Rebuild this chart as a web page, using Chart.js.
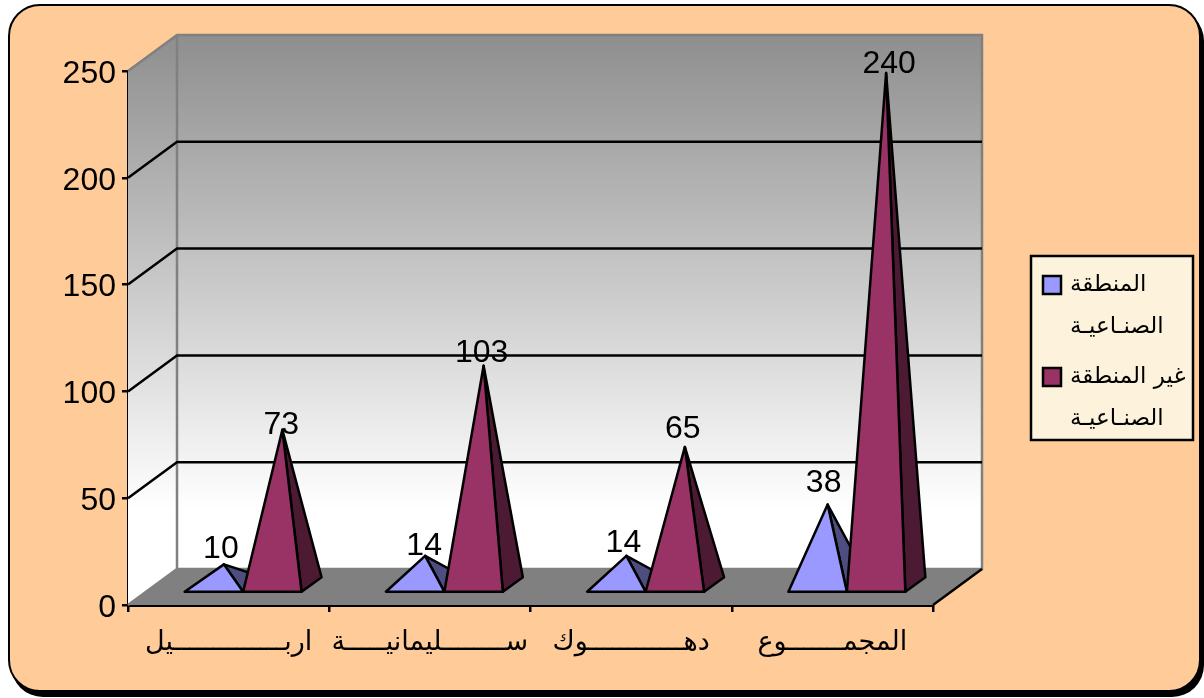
<!DOCTYPE html>
<html lang="ar">
<head>
<meta charset="utf-8">
<title>chart</title>
<script src="https://cdn.jsdelivr.net/npm/chart.js@4"></script>
<style>
    html, body { margin: 0; padding: 0; background: #fff; overflow: hidden; width: 1204px; height: 698px; }
    #frame {
        position: absolute; left: 8px; top: 4px; width: 1189px; height: 684px;
        background: #FFCC99; border: 2px solid #000; border-radius: 32px;
        box-shadow: 3px 5px 0 #000;
    }
    #Chart { position: absolute; left: 0; top: 0; }
</style>
</head>
<body>
<div id="frame"></div>
<canvas id="Chart" width="1204" height="698"></canvas>
<script>
// chart values
const categories = ['اربــــــــــــــيل', 'ســــــــليمانيـــــة', 'دهــــــــــــوك', 'المجمـــــــوع'];
const industrial = [10, 14, 14, 38];
const nonIndustrial = [73, 103, 65, 240];
const legendIndustrial = ['المنطقة', 'الصنـاعيـة'];
const legendNonIndustrial = ['غير المنطقة', 'الصنـاعيـة'];

// depth of the fake 3D box, in pixels
const depthX = 49, depthY = 36;
// how far the pyramids sit inside the box
const baseX = 14.5, baseY = 12, sideX = 20, sideY = 14.5;
// excel put each value label a little differently, offset from the apex
const nudgeIndustrial = [[-3, -15], [-1, -10], [-3, -13], [-4, -21]];
const nudgeNonIndustrial = [[-1, -5], [-2, -13], [-2, -18], [3, -9]];

const latin = '"Liberation Sans", Arial, sans-serif';
const arabic = '"DejaVu Sans", sans-serif';

// walls and floor go under the datasets
const box3d = {
    id: 'box3d',
    beforeDatasetsDraw(chart) {
        const c = chart.ctx, a = chart.chartArea, y = chart.scales.y;
        const top = a.top - depthY, floor = a.bottom - depthY;
        const wall = c.createLinearGradient(0, top, 0, floor - 60);
        wall.addColorStop(0, '#8E8E8E');
        wall.addColorStop(1, '#FFFFFF');
        c.save();
        // side wall
        c.fillStyle = wall;
        c.beginPath();
        c.moveTo(a.left, a.top);
        c.lineTo(a.left + depthX, top);
        c.lineTo(a.left + depthX, floor);
        c.lineTo(a.left, a.bottom);
        c.closePath();
        c.fill();
        // back wall
        c.fillRect(a.left + depthX, top, a.right - a.left, floor - top);
        // floor
        c.fillStyle = '#808080';
        c.beginPath();
        c.moveTo(a.left, a.bottom);
        c.lineTo(a.left + depthX, floor);
        c.lineTo(a.right + depthX, floor);
        c.lineTo(a.right, a.bottom);
        c.closePath();
        c.fill();
        // wall edges
        c.strokeStyle = '#808080';
        c.lineWidth = 2.5;
        c.beginPath();
        c.moveTo(a.left, a.top);
        c.lineTo(a.left + depthX, top);
        c.lineTo(a.right + depthX, top);
        c.lineTo(a.right + depthX, floor);
        c.lineTo(a.left + depthX, floor);
        c.lineTo(a.left, a.bottom);
        c.moveTo(a.left + depthX, top);
        c.lineTo(a.left + depthX, floor);
        c.stroke();
        // gridlines
        c.strokeStyle = '#000';
        c.beginPath();
        y.ticks.forEach(t => {
            if (t.value === 0 || t.value === y.max) return;
            const py = y.getPixelForValue(t.value);
            c.moveTo(a.left, py);
            c.lineTo(a.left + depthX, py - depthY);
            c.lineTo(a.right + depthX, py - depthY);
        });
        // right floor edge
        c.moveTo(a.right, a.bottom);
        c.lineTo(a.right + depthX, floor);
        c.stroke();
        c.restore();
    }
};

function face(c, pts, fill) {
    c.fillStyle = fill;
    c.beginPath();
    pts.forEach((p, i) => i ? c.lineTo(p[0], p[1]) : c.moveTo(p[0], p[1]));
    c.closePath();
    c.fill();
    c.stroke();
}

// the bars are invisible, each one is redrawn as a pyramid from its own x, y and width
const pyramids = {
    id: 'pyramids',
    afterDatasetsDraw(chart) {
        const c = chart.ctx;
        c.save();
        c.strokeStyle = '#000';
        c.lineWidth = 2.5;
        c.lineJoin = 'round';
        chart.data.datasets.forEach((ds, i) => {
            chart.getDatasetMeta(i).data.forEach(el => {
                const l = el.x - el.width / 2 + baseX, r = el.x + el.width / 2 + baseX;
                const by = el.base - baseY;
                const apex = [(l + r) / 2 + sideX / 2, el.y - baseY - sideY / 2];
                face(c, [[r, by], [r + sideX, by - sideY], apex], ds.sideColor);
                face(c, [[l, by], [r, by], apex], ds.frontColor);
            });
        });
        // value labels
        c.font = '32px ' + latin;
        c.fillStyle = '#000';
        c.textAlign = 'center';
        c.textBaseline = 'middle';
        chart.data.datasets.forEach((ds, i) => {
            chart.getDatasetMeta(i).data.forEach((el, k) => {
                const ax = el.x + baseX + sideX / 2, ay = el.y - baseY - sideY / 2;
                c.fillText(ds.data[k], ax + ds.nudge[k][0], ay + ds.nudge[k][1]);
            });
        });
        c.restore();
    }
};

const legendBox = {
    id: 'legendBox',
    afterDraw(chart) {
        const c = chart.ctx;
        c.save();
        c.fillStyle = '#FDF3DC';
        c.strokeStyle = '#000';
        c.lineWidth = 2.5;
        c.fillRect(1031, 256, 162, 184);
        c.strokeRect(1031, 256, 162, 184);
        c.font = '23px ' + arabic;
        c.textBaseline = 'middle';
        c.textAlign = 'left';
        let y = 285;
        chart.data.datasets.forEach(ds => {
            c.fillStyle = ds.frontColor;
            c.fillRect(1043, y - 9, 18, 18);
            c.strokeRect(1043, y - 9, 18, 18);
            c.fillStyle = '#000';
            c.fillText(ds.legendLines[0], 1070, y);
            c.fillText(ds.legendLines[1], 1070, y + 42);
            y += 92;
        });
        c.restore();
    }
};

new Chart(document.getElementById('Chart'), {
    type: 'bar',
    data: {
        labels: categories,
        datasets: [{
            label: legendIndustrial.join(' '),
            legendLines: legendIndustrial,
            data: industrial,
            nudge: nudgeIndustrial,
            backgroundColor: 'rgba(0,0,0,0)',
            frontColor: '#9999FF',
            sideColor: '#4D4D80'
        }, {
            label: legendNonIndustrial.join(' '),
            legendLines: legendNonIndustrial,
            data: nonIndustrial,
            nudge: nudgeNonIndustrial,
            backgroundColor: 'rgba(0,0,0,0)',
            frontColor: '#993366',
            sideColor: '#4D1A33'
        }]
    },
    plugins: [box3d, pyramids, legendBox],
    options: {
        responsive: false,
        animation: false,
        layout: { padding: { top: 71, right: 271 } },
        datasets: { bar: { categoryPercentage: 0.581, barPercentage: 1 } },
        plugins: { legend: { display: false }, tooltip: { enabled: false } },
        scales: {
            x: {
                afterFit(s) { s.height = 93; },
                grid: { offset: true, drawOnChartArea: false, color: '#000', lineWidth: 2.5, tickLength: 7 },
                border: { color: '#000', width: 3 },
                ticks: { color: '#000', font: { family: arabic, size: 27 }, padding: 15, maxRotation: 0, autoSkip: false }
            },
            y: {
                min: 0,
                max: 250,
                afterFit(s) { s.width = 128; },
                grid: { drawOnChartArea: false, color: '#000', lineWidth: 2.5, tickLength: 6 },
                border: { color: '#000', width: 3 },
                ticks: { color: '#000', stepSize: 50, font: { family: latin, size: 32 }, padding: 6, labelOffset: 3 }
            }
        }
    }
});
</script>
</body>
</html>
